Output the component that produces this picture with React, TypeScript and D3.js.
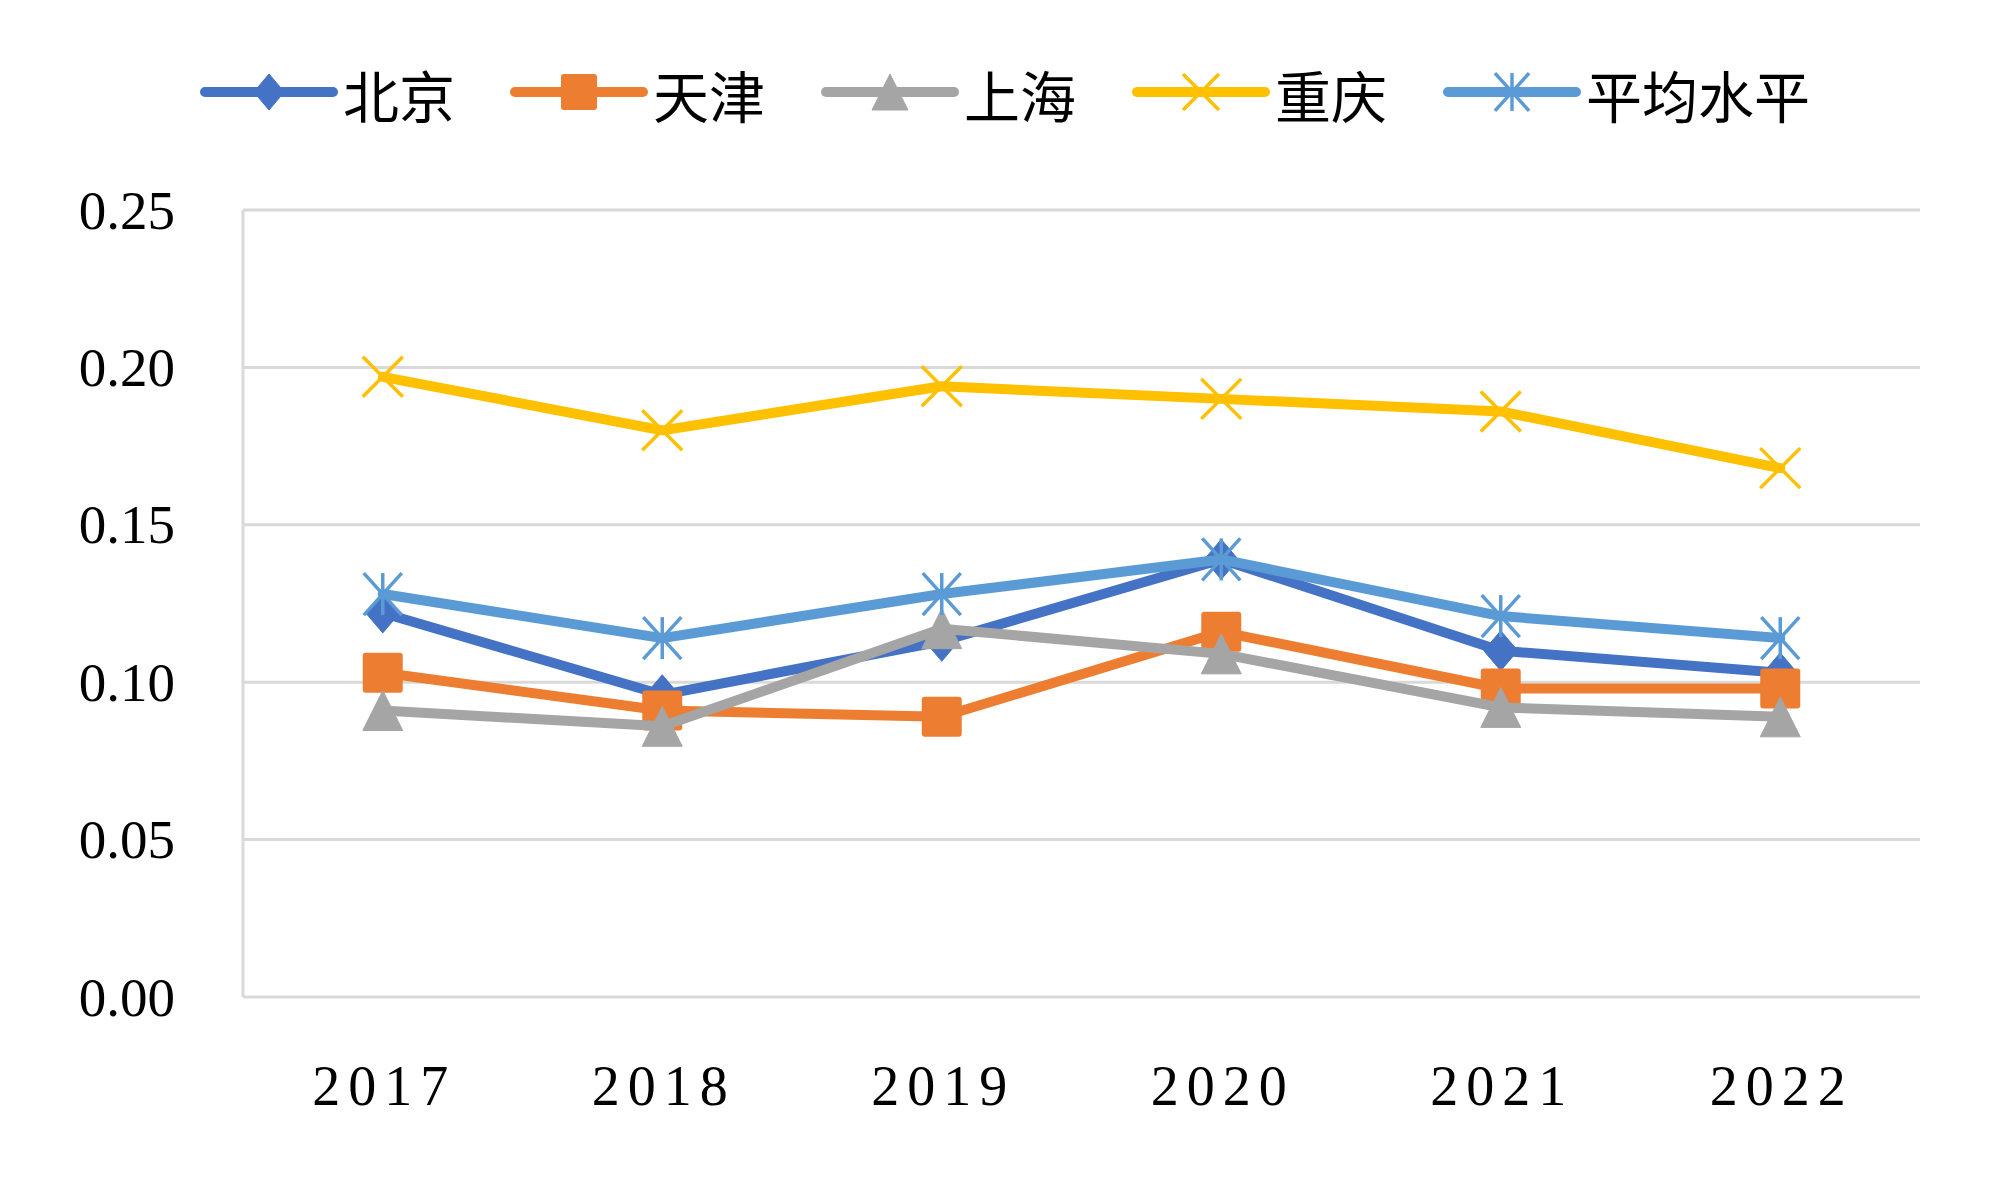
import React from 'react';
import * as d3 from 'd3';

const years = ['2017', '2018', '2019', '2020', '2021', '2022'];
const beijing = [0.122, 0.096, 0.113, 0.139, 0.110, 0.103];
const tianjin = [0.103, 0.091, 0.089, 0.116, 0.098, 0.098];
const shanghai = [0.091, 0.086, 0.117, 0.109, 0.092, 0.089];
const chongqing = [0.197, 0.180, 0.194, 0.190, 0.186, 0.168];
const average = [0.128, 0.114, 0.128, 0.139, 0.121, 0.114];
const yTicks = [0, 0.05, 0.1, 0.15, 0.2, 0.25];
const seriesNames = ['北京', '天津', '上海', '重庆', '平均水平'];

const series = [
  { name: seriesNames[0], values: beijing, color: '#4472C4', marker: 'diamond' },
  { name: seriesNames[1], values: tianjin, color: '#ED7D31', marker: 'square' },
  { name: seriesNames[2], values: shanghai, color: '#A5A5A5', marker: 'triangle' },
  { name: seriesNames[3], values: chongqing, color: '#FFC000', marker: 'x' },
  { name: seriesNames[4], values: average, color: '#5B9BD5', marker: 'star' },
];

const W = 2000;
const H = 1200;
const plotLeft = 243;
const plotRight = 1920;
const plotTop = 210;
const plotBottom = 997;

function Marker({ type, cx, cy, color, s = 1 }: { type: string; cx: number; cy: number; color: string; s?: number }) {
  if (type === 'diamond') {
    const hw = 17 * s, hh = 20 * s;
    return <path d={`M${cx},${cy - hh}L${cx + hw},${cy}L${cx},${cy + hh}L${cx - hw},${cy}Z`} fill={color} stroke={color} strokeWidth={1} strokeLinejoin="round" />;
  }
  if (type === 'square') {
    const h = 20 * s;
    return <rect x={cx - h} y={cy - h} width={2 * h} height={2 * h} rx={3} fill={color} />;
  }
  if (type === 'triangle') {
    const hw = 20 * s, hh = 20 * s;
    return <path d={`M${cx},${cy - hh}L${cx + hw},${cy + hh}L${cx - hw},${cy + hh}Z`} fill={color} stroke={color} strokeWidth={1} strokeLinejoin="round" />;
  }
  if (type === 'x') {
    const hw = 20 * s, hh = 20 * s;
    return (
      <g stroke={color} strokeWidth={3.5} strokeLinecap="butt">
        <line x1={cx - hw} y1={cy - hh} x2={cx + hw} y2={cy + hh} />
        <line x1={cx - hw} y1={cy + hh} x2={cx + hw} y2={cy - hh} />
      </g>
    );
  }
  // star (asterisk)
  const hw = 19 * s, hh = 21 * s;
  return (
    <g stroke={color} strokeWidth={3.5} strokeLinecap="butt">
      <line x1={cx - hw} y1={cy - hh} x2={cx + hw} y2={cy + hh} />
      <line x1={cx - hw} y1={cy + hh} x2={cx + hw} y2={cy - hh} />
      <line x1={cx} y1={cy - hh} x2={cx} y2={cy + hh} />
    </g>
  );
}

export default function App() {
  const x = d3.scaleBand<string>().domain(years).range([plotLeft, plotRight]);
  const cx = (yr: string) => (x(yr) as number) + x.bandwidth() / 2;
  const y = d3.scaleLinear().domain([0, 0.25]).range([plotBottom, plotTop]);
  const line = d3
    .line<number>()
    .x((_, i) => cx(years[i]))
    .y((d) => y(d));

  const legendStarts = [205, 515, 826, 1137, 1448];
  const legendY = 92;

  return (
    <svg
      width={W}
      height={H}
      viewBox={`0 0 ${W} ${H}`}
      style={{ position: 'absolute', left: 0, top: 0, background: '#fff' }}
    >
      <rect x={0} y={0} width={W} height={H} fill="#fff" />
      {/* gridlines */}
      {yTicks.map((t) => (
        <line key={t} x1={plotLeft} x2={plotRight} y1={y(t)} y2={y(t)} stroke="#D9D9D9" strokeWidth={3} />
      ))}
      <line x1={plotLeft} x2={plotLeft} y1={plotTop} y2={plotBottom} stroke="#D9D9D9" strokeWidth={3} />
      {/* y labels */}
      {yTicks.map((t) => (
        <text
          key={t}
          x={175}
          y={y(t)}
          textAnchor="end"
          dominantBaseline="central"
          fontFamily="'Liberation Serif', 'Times New Roman', serif"
          fontSize={55}
          fill="#000"
        >
          {d3.format('.2f')(t)}
        </text>
      ))}
      {/* x labels */}
      {years.map((yr) => (
        <text
          key={yr}
          x={cx(yr) + 1.5}
          y={1105}
          textAnchor="middle"
          fontFamily="'Liberation Serif', 'Times New Roman', serif"
          fontSize={56}
          letterSpacing={8}
          fill="#000"
        >
          {yr}
        </text>
      ))}
      {/* series */}
      {series.map((s) => (
        <g key={s.name}>
          <path d={line(s.values) as string} fill="none" stroke={s.color} strokeWidth={10} strokeLinejoin="round" strokeLinecap="round" />
          {s.values.map((v, i) => (
            <Marker key={i} type={s.marker} cx={cx(years[i])} cy={y(v)} color={s.color} />
          ))}
        </g>
      ))}
      {/* legend */}
      {series.map((s, i) => {
        const x0 = legendStarts[i];
        return (
          <g key={s.name}>
            <line x1={x0} x2={x0 + 128} y1={legendY} y2={legendY} stroke={s.color} strokeWidth={10} strokeLinecap="round" />
            <Marker type={s.marker} cx={x0 + 64} cy={legendY} color={s.color} s={0.9} />
            <text
              x={x0 + 138}
              y={legendY + 1}
              dominantBaseline="central"
              fontFamily="'Noto Sans CJK SC', sans-serif"
              fontSize={56}
              fill="#000"
            >
              {s.name}
            </text>
          </g>
        );
      })}
    </svg>
  );
}
